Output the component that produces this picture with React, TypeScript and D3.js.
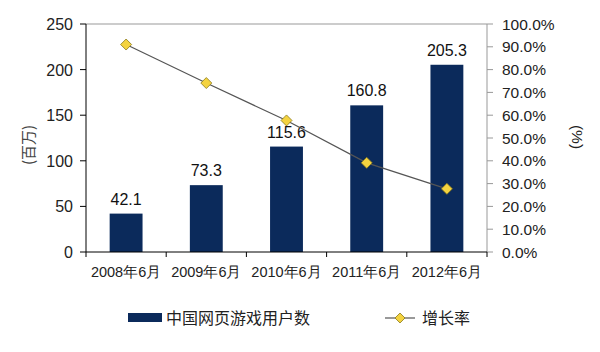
import React from "react";
import * as d3 from "d3";

const categories = ["2008年6月", "2009年6月", "2010年6月", "2011年6月", "2012年6月"];
const users = [42.1, 73.3, 115.6, 160.8, 205.3];
const growth = [0.91, 0.741, 0.577, 0.391, 0.277];
const leftTicks = [0, 50, 100, 150, 200, 250];
const rightTicks = [0, 0.1, 0.2, 0.3, 0.4, 0.5, 0.6, 0.7, 0.8, 0.9, 1.0];

export default function App() {
  const W = 600, H = 352;
  const left = 86, right = 487, top = 24, bottom = 252;
  const x = d3.scaleBand<string>().domain(categories).range([left, right]).paddingInner(0.59).paddingOuter(0.295);
  const xs = d3.scaleBand<string>().domain(categories).range([left, right]);
  const yL = d3.scaleLinear().domain([0, 250]).range([bottom, top]);
  const yR = d3.scaleLinear().domain([0, 1]).range([bottom, top]);
  const fmt = d3.format(".1%");
  const line = d3.line<number>().x((_, i) => (xs(categories[i]) as number) + xs.bandwidth() / 2).y((d) => yR(d));
  const font = "Liberation Sans, Arial, sans-serif";
  const cjk = "'Noto Sans CJK SC', sans-serif";
  const navy = "#0b2a5b";
  const diamond = (cx: number, cy: number, r: number) =>
    `M${cx},${cy - r}L${cx + r},${cy}L${cx},${cy + r}L${cx - r},${cy}Z`;
  return (
    <svg width={W} height={H} style={{ position: "absolute", left: 0, top: 0, background: "#fff" }}>
      <line x1={left} x2={right} y1={top} y2={top} stroke="#999" />
      <line x1={right} x2={right} y1={top} y2={bottom} stroke="#999" />
      {rightTicks.map((t) => (
        <g key={t}>
          <line x1={right} x2={right + 6} y1={yR(t)} y2={yR(t)} stroke="#999" />
          <text x={502} y={yR(t) + 5.5} fontSize={15.5} fontFamily={font} fill="#222">{fmt(t)}</text>
        </g>
      ))}
      {users.map((v, i) => (
        <g key={i}>
          <rect x={x(categories[i])} y={yL(v)} width={x.bandwidth()} height={bottom - yL(v)} fill={navy} />
          <text x={(x(categories[i]) as number) + x.bandwidth() / 2} y={yL(v) - 9} textAnchor="middle" fontSize={16} fontFamily={font} fill="#111">{v.toFixed(1)}</text>
        </g>
      ))}
      <path d={line(growth) || ""} fill="none" stroke="#555" strokeWidth={1.2} />
      {growth.map((g, i) => (
        <path key={i} d={diamond((xs(categories[i]) as number) + xs.bandwidth() / 2, yR(g), 5.5)} fill="#f4d340" stroke="#8a7a1c" strokeWidth={0.8} />
      ))}
      <line x1={left} x2={left} y1={top} y2={bottom} stroke="#000" />
      {leftTicks.map((t) => (
        <g key={t}>
          <line x1={left - 6} x2={left} y1={yL(t)} y2={yL(t)} stroke="#000" />
          <text x={73} y={yL(t) + 6} textAnchor="end" fontSize={16} fontFamily={font} fill="#222">{t}</text>
        </g>
      ))}
      <line x1={left} x2={right} y1={bottom} y2={bottom} stroke="#000" />
      {categories.map((c, i) => (
        <g key={c}>
          <line x1={xs(c)} x2={xs(c)} y1={bottom} y2={bottom + 5} stroke="#000" />
          <text x={(xs(c) as number) + xs.bandwidth() / 2} y={277} textAnchor="middle" fontSize={14.5} fontFamily={font} fill="#222">{c}</text>
        </g>
      ))}
      <line x1={right} x2={right} y1={bottom} y2={bottom + 5} stroke="#000" />
      <text transform="translate(34,145) rotate(-90)" textAnchor="middle" fontSize={15} fontFamily={cjk} fill="#444">(百万)</text>
      <text transform="translate(572,137) rotate(90)" textAnchor="middle" fontSize={15.5} fontFamily={font} fill="#222">(%)</text>
      <rect x={128} y={313} width={34} height={9} fill={navy} />
      <text x={166} y={324} fontSize={16} fontFamily={cjk} fill="#222">中国网页游戏用户数</text>
      <line x1={385} x2={415} y1={318} y2={318} stroke="#555" strokeWidth={1.2} />
      <path d={diamond(400, 318, 5)} fill="#f4d340" stroke="#8a7a1c" strokeWidth={0.8} />
      <text x={422} y={324} fontSize={16} fontFamily={cjk} fill="#222">增长率</text>
    </svg>
  );
}
